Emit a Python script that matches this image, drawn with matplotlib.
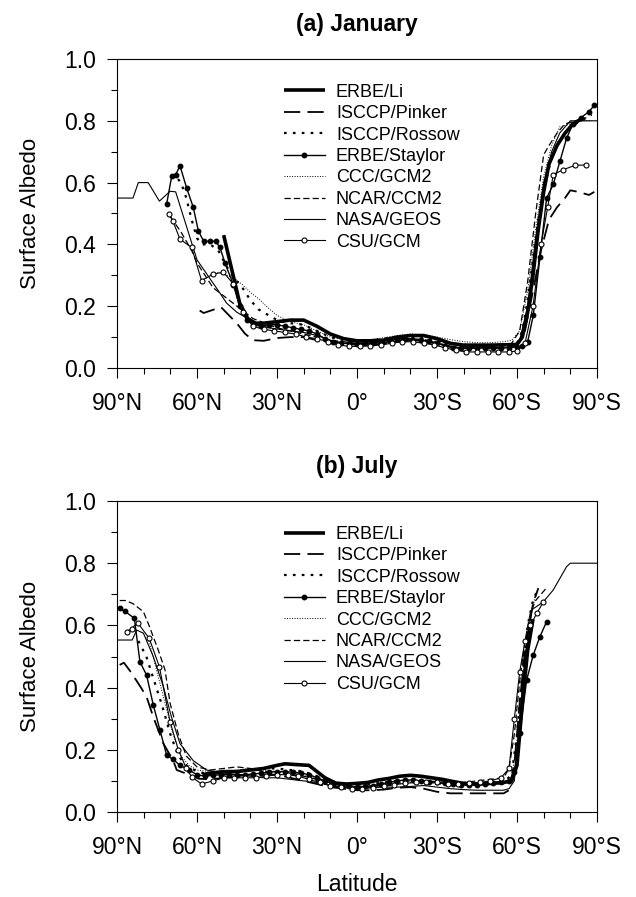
import matplotlib
matplotlib.use('Agg')
import matplotlib.pyplot as plt
from matplotlib.ticker import MultipleLocator

plt.rcParams['font.family'] = 'Liberation Sans'

names = ['ERBE/Li', 'ISCCP/Pinker', 'ISCCP/Rossow', 'ERBE/Staylor',
         'CCC/GCM2', 'NCAR/CCM2', 'NASA/GEOS', 'CSU/GCM']
tick_lat = [90, 60, 30, 0, -30, -60, -90]
tick_txt = ['90°N', '60°N', '30°N', '0°', '30°S', '60°S', '90°S']

# ---- (a) January ----
jan_li_lat = [50, 47, 44, 41, 38, 35, 30, 25, 20, 15, 10, 5, 0, -5, -10, -15, -20, -25, -30, -35,
              -40, -45, -50, -55, -60, -62, -64, -66, -68, -70, -72, -75, -78, -81, -85]
jan_li_val = [0.43, 0.32, 0.21, 0.16, 0.145, 0.145, 0.15, 0.155, 0.155, 0.135, 0.11, 0.095, 0.088, 0.088, 0.09,
              0.10, 0.105, 0.105, 0.095, 0.08, 0.074, 0.074, 0.074, 0.075, 0.076, 0.10, 0.18, 0.30, 0.45, 0.57,
              0.66, 0.72, 0.76, 0.79, 0.81]

jan_pinker_lat = [59, 57.5, 51, 45, 42, 39, 35, 30, 25, 20, 15, 10, 5, 0, -5, -10, -15, -20, -25, -30,
                  -35, -40, -45, -50, -55, -60, -63, -66, -69, -72, -75, -78, -80, -83, -87, -89]
jan_pinker_val = [0.186, 0.178, 0.197, 0.144, 0.111, 0.09, 0.088, 0.097, 0.10, 0.10, 0.09, 0.085, 0.08, 0.075,
                  0.075, 0.078, 0.085, 0.09, 0.088, 0.08, 0.07, 0.065, 0.065, 0.065, 0.066, 0.07, 0.12, 0.25,
                  0.38, 0.48, 0.52, 0.55, 0.575, 0.57, 0.56, 0.57]

jan_rossow_lat = [70, 68, 66, 64, 62, 60, 58, 55, 52, 49, 46, 43, 40, 37, 34, 31, 28, 25, 20, 15, 10, 5, 0,
                  -5, -10, -15, -20, -25, -30, -35, -40, -45, -50, -55, -60, -62, -64, -66, -68, -70, -73,
                  -76, -80, -84, -88]
jan_rossow_val = [0.62, 0.62, 0.60, 0.55, 0.48, 0.42, 0.40, 0.40, 0.38, 0.33, 0.29, 0.26, 0.22, 0.19, 0.175,
                  0.16, 0.15, 0.145, 0.14, 0.12, 0.10, 0.09, 0.085, 0.088, 0.095, 0.10, 0.10, 0.098, 0.09,
                  0.08, 0.075, 0.075, 0.075, 0.075, 0.08, 0.12, 0.22, 0.35, 0.48, 0.58, 0.68, 0.74, 0.78,
                  0.80, 0.82]

jan_staylor_lat = [71.4, 69.5, 68, 66.4, 63.9, 61.4, 59.5, 57.5, 55, 53, 51.4, 49.5, 46.4, 44, 41.4, 39, 36,
                   33, 30, 27, 24, 21, 18, 15, 12, 9, 6, 3, 0, -3, -6, -9, -12, -15, -18, -21, -24, -27,
                   -30, -33, -36, -39, -42, -45, -48, -51, -54, -57, -60, -62, -64, -66.1, -68.6, -71.1,
                   -73.6, -76.1, -78.6, -81, -84, -87, -89]
jan_staylor_val = [0.53, 0.62, 0.625, 0.655, 0.583, 0.52, 0.444, 0.41, 0.41, 0.41, 0.39, 0.34, 0.27, 0.2,
                   0.155, 0.14, 0.135, 0.14, 0.14, 0.135, 0.13, 0.125, 0.12, 0.11, 0.095, 0.085, 0.08, 0.08,
                   0.078, 0.08, 0.082, 0.085, 0.09, 0.095, 0.095, 0.092, 0.09, 0.088, 0.08, 0.072, 0.065,
                   0.065, 0.065, 0.065, 0.065, 0.065, 0.065, 0.066, 0.068, 0.07, 0.085, 0.17, 0.358, 0.55,
                   0.594, 0.669, 0.744, 0.79, 0.81, 0.83, 0.85]

jan_ccc_lat = [55, 52, 49, 46, 43, 40, 37, 34, 30, 25, 20, 15, 10, 5, 0, -5, -10, -15, -20, -25, -30, -35,
               -40, -45, -50, -55, -58, -61, -64, -67, -70, -73, -76, -80, -84, -88]
jan_ccc_val = [0.30, 0.31, 0.30, 0.29, 0.27, 0.245, 0.225, 0.20, 0.17, 0.15, 0.14, 0.12, 0.10, 0.092, 0.09,
               0.092, 0.098, 0.105, 0.11, 0.108, 0.10, 0.092, 0.085, 0.082, 0.082, 0.085, 0.09, 0.12, 0.25,
               0.45, 0.62, 0.72, 0.78, 0.79, 0.80, 0.80]

jan_ncar_lat = [70, 66, 62, 60, 57, 54, 51, 48, 45, 42, 39, 36, 33, 30, 25, 20, 15, 10, 5, 0, -5, -10, -15,
                -20, -25, -30, -35, -40, -45, -50, -55, -58, -61, -64, -67, -70, -72, -75, -78, -82, -86]
jan_ncar_val = [0.49, 0.44, 0.38, 0.34, 0.30, 0.26, 0.24, 0.22, 0.20, 0.18, 0.16, 0.15, 0.14, 0.13, 0.12,
                0.11, 0.10, 0.09, 0.085, 0.08, 0.08, 0.085, 0.09, 0.095, 0.092, 0.085, 0.078, 0.072, 0.07,
                0.07, 0.072, 0.08, 0.12, 0.28, 0.5, 0.69, 0.72, 0.76, 0.79, 0.80, 0.81]

jan_nasa_lat = [90, 84, 82, 78.3, 74.1, 70.1, 68, 64, 60, 56, 52, 48.9, 45, 41, 37, 33, 29, 25, 20, 15, 10,
                5, 0, -5, -10, -15, -20, -25, -30, -35, -40, -45, -50, -55, -58, -61, -64, -67, -70, -73,
                -76, -80, -90]
jan_nasa_val = [0.55, 0.55, 0.60, 0.60, 0.54, 0.572, 0.57, 0.46, 0.35, 0.30, 0.25, 0.21, 0.18, 0.16, 0.14,
                0.13, 0.125, 0.12, 0.115, 0.105, 0.09, 0.08, 0.075, 0.078, 0.082, 0.088, 0.09, 0.088, 0.08,
                0.07, 0.065, 0.065, 0.065, 0.065, 0.07, 0.09, 0.2, 0.42, 0.6, 0.7, 0.76, 0.80, 0.80]

jan_csu_lat = [70.4, 69, 66.4, 62, 58.3, 53.9, 50.1, 46.4, 42.6, 39, 35, 31, 27, 23, 19, 15, 11, 7, 3, -1,
               -5, -9, -13, -17, -21, -25, -29, -33, -37, -41, -45, -49, -53, -57, -60, -63, -66, -69,
               -71.5, -73.6, -77.4, -81.8, -85.9]
jan_csu_val = [0.497, 0.475, 0.417, 0.39, 0.283, 0.304, 0.31, 0.272, 0.181, 0.135, 0.125, 0.12, 0.115, 0.11,
               0.10, 0.095, 0.085, 0.075, 0.07, 0.07, 0.072, 0.075, 0.08, 0.085, 0.085, 0.08, 0.075, 0.065,
               0.058, 0.052, 0.052, 0.052, 0.052, 0.052, 0.055, 0.08, 0.2, 0.4, 0.52, 0.626, 0.642, 0.656,
               0.657]

# ---- (b) July ----
jul_li_lat = [58, 55, 50, 45, 40, 35, 30, 27, 22, 18, 15, 12, 8, 4, 0, -4, -8, -12, -16, -20, -24, -28,
              -32, -36, -40, -45, -50, -55, -58, -60, -62, -64, -66]
jul_li_val = [0.12, 0.125, 0.13, 0.13, 0.135, 0.14, 0.15, 0.155, 0.152, 0.15, 0.13, 0.11, 0.093, 0.09, 0.092,
              0.095, 0.103, 0.108, 0.115, 0.118, 0.115, 0.11, 0.105, 0.098, 0.092, 0.09, 0.092, 0.095, 0.10,
              0.15, 0.35, 0.52, 0.62]

jul_pinker_lat = [89, 87.4, 84.8, 81, 78.9, 76.4, 72.6, 68.9, 67.6, 63.9, 59.3, 55, 50, 45, 40, 35, 30, 25,
                  20, 15, 10, 5, 0, -5, -10, -15, -20, -25, -30, -35, -40, -45, -50, -55, -57, -59, -61, -63,
                  -65, -66, -68]
jul_pinker_val = [0.473, 0.48, 0.45, 0.40, 0.37, 0.306, 0.22, 0.165, 0.135, 0.123, 0.107, 0.105, 0.11, 0.115,
                  0.12, 0.12, 0.12, 0.11, 0.10, 0.09, 0.08, 0.075, 0.07, 0.07, 0.072, 0.078, 0.08, 0.075,
                  0.065, 0.06, 0.06, 0.06, 0.06, 0.06, 0.07, 0.15, 0.35, 0.52, 0.62, 0.67, 0.72]

jul_rossow_lat = [82, 79, 76, 73, 70, 67, 64, 60, 55, 50, 45, 40, 35, 30, 25, 20, 15, 10, 5, 0, -5, -10, -15,
                  -20, -25, -30, -35, -40, -45, -50, -55, -58, -60, -62, -64, -66, -68]
jul_rossow_val = [0.55, 0.5, 0.42, 0.34, 0.25, 0.18, 0.15, 0.13, 0.12, 0.125, 0.13, 0.135, 0.14, 0.14, 0.135,
                  0.13, 0.115, 0.10, 0.09, 0.088, 0.09, 0.095, 0.10, 0.105, 0.10, 0.095, 0.09, 0.088, 0.088,
                  0.09, 0.095, 0.12, 0.25, 0.45, 0.60, 0.68, 0.72]

jul_staylor_lat = [88.9, 87, 83.5, 81.4, 78.9, 76.4, 73.9, 71.4, 68.9, 66.4, 63, 60, 57, 54, 51, 48, 45, 42,
                   39, 36, 33, 30, 27, 24, 21, 18, 15, 12, 9, 6, 3, 0, -3, -6, -9, -12, -15, -18, -21, -24,
                   -27, -30, -33, -36, -39, -42, -45, -48, -51, -54, -57, -59, -61.1, -63.6, -66.1, -68.6,
                   -71.1]
jul_staylor_val = [0.655, 0.645, 0.623, 0.483, 0.44, 0.344, 0.264, 0.183, 0.169, 0.15, 0.135, 0.12, 0.115,
                   0.118, 0.12, 0.12, 0.12, 0.12, 0.122, 0.125, 0.128, 0.13, 0.13, 0.128, 0.125, 0.12, 0.11,
                   0.10, 0.09, 0.085, 0.082, 0.08, 0.082, 0.085, 0.09, 0.095, 0.10, 0.103, 0.103, 0.10,
                   0.098, 0.095, 0.092, 0.09, 0.088, 0.088, 0.088, 0.09, 0.092, 0.095, 0.10, 0.13, 0.254,
                   0.424, 0.505, 0.564, 0.612]

jul_ccc_lat = [78, 75, 72, 69, 66, 63, 60, 55, 50, 45, 40, 35, 30, 25, 20, 15, 10, 5, 0, -5, -10, -15, -20,
               -25, -30, -35, -40, -45, -50, -55, -58, -61, -63, -65, -67]
jul_ccc_val = [0.55, 0.45, 0.35, 0.25, 0.18, 0.15, 0.135, 0.13, 0.13, 0.135, 0.14, 0.135, 0.13, 0.125, 0.12,
               0.11, 0.095, 0.085, 0.08, 0.08, 0.085, 0.09, 0.095, 0.095, 0.09, 0.088, 0.085, 0.085, 0.088,
               0.09, 0.11, 0.30, 0.50, 0.62, 0.70]

jul_ncar_lat = [89, 86.9, 84, 80.1, 78, 74.5, 72, 70.1, 67, 64, 60, 55, 50, 45, 40, 35, 30, 25, 20, 15, 10,
                5, 0, -5, -10, -15, -20, -25, -30, -35, -40, -45, -50, -55, -57, -59, -61, -63, -65, -67,
                -69, -71]
jul_ncar_val = [0.68, 0.68, 0.67, 0.644, 0.60, 0.52, 0.457, 0.35, 0.25, 0.18, 0.145, 0.135, 0.14, 0.145,
                0.14, 0.13, 0.13, 0.12, 0.115, 0.105, 0.09, 0.085, 0.08, 0.082, 0.088, 0.095, 0.10, 0.10,
                0.098, 0.095, 0.095, 0.10, 0.105, 0.11, 0.14, 0.25, 0.42, 0.55, 0.64, 0.68, 0.70, 0.72]

jul_nasa_lat = [90, 84.3, 82.6, 80.1, 76.4, 72.6, 69.6, 66.4, 61.4, 56.4, 50, 45, 40, 35, 30, 25, 20, 15,
                10, 5, 0, -5, -10, -15, -20, -25, -30, -35, -40, -45, -50, -55, -57, -59, -61, -63, -65.5,
                -69.9, -73.6, -78.6, -80, -90]
jul_nasa_val = [0.553, 0.553, 0.585, 0.575, 0.5, 0.403, 0.306, 0.22, 0.165, 0.135, 0.125, 0.12, 0.115, 0.11,
                0.11, 0.105, 0.10, 0.095, 0.085, 0.08, 0.08, 0.08, 0.08, 0.08, 0.082, 0.085, 0.08, 0.075,
                0.072, 0.07, 0.07, 0.07, 0.075, 0.1, 0.3, 0.5, 0.65, 0.676, 0.714, 0.789, 0.80, 0.80]

jul_csu_lat = [86.4, 84.5, 82.3, 77.9, 74.1, 70.1, 67, 64, 62, 58.3, 54, 50, 46, 42, 38, 34, 30, 26, 22, 18,
               14, 10, 6, 2, -2, -6, -10, -14, -18, -22, -26, -30, -34, -38, -42, -46, -50, -54, -57, -59,
               -61, -63, -65, -67.5, -69.9]
jul_csu_val = [0.58, 0.59, 0.609, 0.558, 0.467, 0.29, 0.2, 0.14, 0.113, 0.09, 0.10, 0.11, 0.11, 0.11, 0.11,
               0.115, 0.12, 0.12, 0.115, 0.105, 0.095, 0.085, 0.08, 0.075, 0.075, 0.078, 0.082, 0.088, 0.092,
               0.095, 0.098, 0.095, 0.09, 0.09, 0.092, 0.095, 0.10, 0.11, 0.14, 0.3, 0.45, 0.55, 0.6, 0.64,
               0.676]

# line styles, same order as names
styles = [
    dict(lw=2.6, solid_capstyle='butt'),
    dict(lw=1.3, dashes=(9, 4)),
    dict(lw=1.6, dashes=(1.2, 2.8)),
    dict(lw=1.0, marker='o', ms=3.2, mfc='black', mec='black'),
    dict(lw=0.7, dashes=(1, 1.6)),
    dict(lw=0.9, dashes=(5, 2.5)),
    dict(lw=0.8),
    dict(lw=0.8, marker='o', ms=3.6, mfc='white', mec='black', mew=0.8),
]

jan = [(jan_li_lat, jan_li_val), (jan_pinker_lat, jan_pinker_val), (jan_rossow_lat, jan_rossow_val),
       (jan_staylor_lat, jan_staylor_val), (jan_ccc_lat, jan_ccc_val), (jan_ncar_lat, jan_ncar_val),
       (jan_nasa_lat, jan_nasa_val), (jan_csu_lat, jan_csu_val)]
jul = [(jul_li_lat, jul_li_val), (jul_pinker_lat, jul_pinker_val), (jul_rossow_lat, jul_rossow_val),
       (jul_staylor_lat, jul_staylor_val), (jul_ccc_lat, jul_ccc_val), (jul_ncar_lat, jul_ncar_val),
       (jul_nasa_lat, jul_nasa_val), (jul_csu_lat, jul_csu_val)]

fig = plt.figure(figsize=(6.36, 8.97), dpi=100)
ax1 = fig.add_axes([117 / 636, 1 - 368 / 897, 480 / 636, 309 / 897])
ax2 = fig.add_axes([117 / 636, 1 - 812 / 897, 480 / 636, 311 / 897])


def draw_panel(ax, series, title):
    for (lat, val), name, st in zip(series, names, styles):
        ax.plot(lat, val, color='black', label=name, **st)
    ax.set_xlim(90, -90)
    ax.set_ylim(0, 1)
    ax.set_xticks(tick_lat)
    ax.set_xticklabels(tick_txt)
    ax.xaxis.set_minor_locator(MultipleLocator(10))
    ax.yaxis.set_major_locator(MultipleLocator(0.2))
    ax.yaxis.set_minor_locator(MultipleLocator(0.1))
    ax.yaxis.set_major_formatter(matplotlib.ticker.FormatStrFormatter('%.1f'))
    ax.tick_params(which='major', direction='out', length=7, width=0.8, labelsize=16.5)
    ax.tick_params(axis='x', which='major', pad=10)
    ax.tick_params(axis='y', which='major', pad=8)
    ax.tick_params(which='minor', direction='out', length=4, width=0.8)
    for sp in ax.spines.values():
        sp.set_linewidth(0.8)
    ax.set_ylabel('Surface Albedo', fontsize=16, labelpad=17)
    ax.set_title(title, fontsize=16.5, fontweight='bold', pad=20)
    ax.legend(loc='upper left', bbox_to_anchor=(0.347, 0.92), frameon=False, fontsize=13,
              handlelength=2.3, handletextpad=0.6, labelspacing=0.245, borderpad=0,
              borderaxespad=0, numpoints=1)


draw_panel(ax1, jan, '(a) January')
draw_panel(ax2, jul, '(b) July')
ax2.set_xlabel('Latitude', fontsize=16.5, labelpad=10)

fig.savefig('out.png', dpi=100)
